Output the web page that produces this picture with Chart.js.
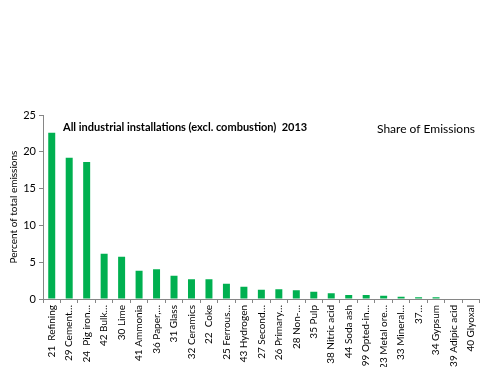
<!DOCTYPE html>
<html>
<head>
<meta charset="utf-8">
<script src="https://cdn.jsdelivr.net/npm/chart.js@4/dist/chart.umd.min.js"></script>
<style>
  html, body { margin: 0; padding: 0; background: #ffffff; }
  #wrap { width: 485px; height: 367px; }
</style>
</head>
<body>
<div id="wrap"><canvas id="c" width="485" height="367"></canvas></div>
<script>
// Activity categories (as labelled on the axis)
const categories = [
  "21  Refining", "29 Cement…", "24  Pig iron…", "42 Bulk…", "30 Lime",
  "41 Ammonia", "36 Paper,…", "31 Glass", "32 Ceramics", "22  Coke",
  "25 Ferrous…", "43 Hydrogen", "27 Second…", "26 Primary…", "28 Non-…",
  "35 Pulp", "38 Nitric acid", "44 Soda ash", "99 Opted-in…", "23 Metal ore…",
  "33 Mineral…", "37…", "34 Gypsum", "39 Adipic acid", "40 Glyoxal"
];

// Share of total emissions, percent
const shareValues = [
  22.6, 19.2, 18.6, 6.15, 5.75,
  3.85, 4.05, 3.15, 2.7, 2.7,
  2.08, 1.68, 1.27, 1.32, 1.18,
  1.0, 0.77, 0.54, 0.54, 0.45,
  0.32, 0.23, 0.23, 0, 0
];

const yTicks = [0, 5, 10, 15, 20, 25];

const chartTitle = "All industrial installations (excl. combustion)  2013";
const seriesName = "Share of Emissions";
const yAxisTitle = "Percent of total emissions";

const FONT = "Lato, 'Liberation Sans', sans-serif";
const AXIS_GREY = "#868686";

// Header texts drawn inside the plot area
const headerText = {
  id: "headerText",
  afterDraw(chart) {
    const ctx = chart.ctx;
    ctx.save();
    ctx.fillStyle = "#000000";
    ctx.textBaseline = "middle";
    ctx.textAlign = "left";
    ctx.font = "bold 11px " + FONT;
    ctx.fillText(chartTitle, 63, 127);
    ctx.font = "12px " + FONT;
    ctx.fillText(seriesName, 377, 129);
    ctx.restore();
  }
};

new Chart(document.getElementById("c"), {
  type: "bar",
  data: {
    labels: categories,
    datasets: [{
      label: seriesName,
      data: shareValues,
      backgroundColor: "#00B050",
      borderWidth: 0,
      barPercentage: 0.8,
      categoryPercentage: 0.5
    }]
  },
  options: {
    responsive: false,
    animation: false,
    devicePixelRatio: 1,
    layout: { padding: { top: 115, right: 0, bottom: 0, left: 0 } },
    plugins: {
      legend: { display: false },
      tooltip: { enabled: false }
    },
    scales: {
      x: {
        grid: {
          display: true,
          drawOnChartArea: false,
          drawTicks: true,
          tickLength: 4,
          color: AXIS_GREY,
          offset: true
        },
        border: { display: true, color: AXIS_GREY, width: 1 },
        ticks: {
          autoSkip: false,
          maxRotation: 90,
          minRotation: 90,
          padding: 2,
          color: "#000000",
          font: { family: FONT, size: 10 }
        },
        afterFit(scale) { scale.height = 68; }
      },
      y: {
        min: 0,
        max: 25,
        afterBuildTicks(scale) { scale.ticks = yTicks.map(v => ({ value: v })); },
        grid: {
          display: true,
          drawOnChartArea: false,
          drawTicks: true,
          tickLength: 4,
          color: AXIS_GREY
        },
        border: { display: true, color: AXIS_GREY, width: 1 },
        ticks: {
          padding: 3,
          color: "#000000",
          font: { family: FONT, size: 11 }
        },
        title: {
          display: true,
          text: yAxisTitle,
          color: "#000000",
          font: { family: FONT, size: 10 },
          padding: { top: 8, bottom: 0 }
        },
        afterFit(scale) { scale.width = 43; }
      }
    }
  },
  plugins: [headerText]
});
</script>
</body>
</html>
